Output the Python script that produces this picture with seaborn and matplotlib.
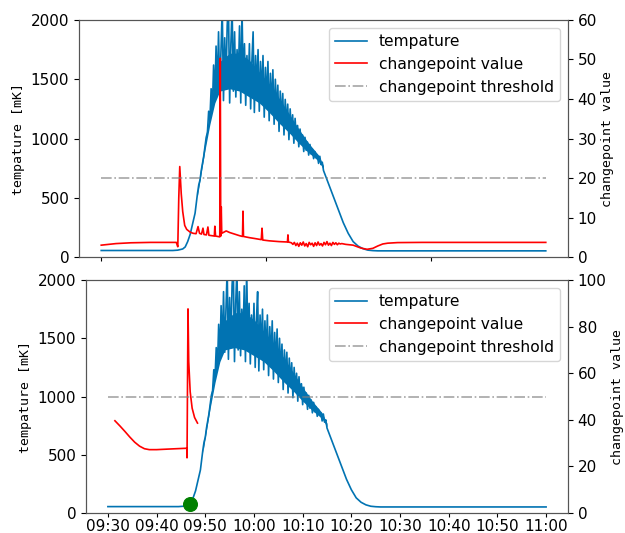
import numpy as np
import matplotlib
matplotlib.use("Agg")
import matplotlib.pyplot as plt
import seaborn as sns

# time in minutes after 09:30
temp_t_head = [0, 14.5, 15.5, 16.5, 17.0, 17.5, 18.0, 18.5, 19.0]
temp_v_head = [55, 55, 58, 68, 85, 130, 190, 280, 370]
temp_noise_start = 19.5  # noisy part sampled every 15 s
temp_noise = [540, 610, 650, 730, 790, 850, 930, 1010,
              1050, 1230, 1160, 1420, 1250, 1620, 1340, 1780,
              1400, 1900, 1380, 1750, 2100, 1320, 1850, 1450,
              1950, 2150, 1300, 1800, 2100, 1400, 1900, 1350,
              1750, 1500, 1950, 1300, 2100, 1450, 1800, 1280,
              1700, 1400, 1800, 1250, 1650, 1900, 1220, 1700,
              1400, 1750, 1230, 1650, 1350, 1700, 1180, 1600,
              1300, 1650, 1150, 1550, 1250, 1580, 1120, 1500,
              1200, 1450, 1060, 1400, 1150, 1380, 1030, 1330,
              1100, 1290, 990, 1250, 1050, 1200, 960, 1170,
              1000, 1110, 930, 1080, 960, 1030, 890, 1010,
              900, 970, 860, 950, 870, 910, 830, 890,
              840, 860, 790, 850, 780, 800, 730]
temp_t_tail = [46, 47, 48, 49, 50, 51, 52, 53, 54, 55, 56, 90]
temp_v_tail = [620, 510, 400, 290, 200, 130, 92, 70, 58, 54, 52, 52]

# dense core of the noisy band
core_t = [19.5, 21, 22, 23, 24, 26, 28, 30, 32, 34, 36, 38, 40, 42, 44, 45]
core_lo = [520, 900, 1120, 1300, 1400, 1420, 1400, 1350, 1300, 1220, 1130, 1050, 960, 880, 810, 740]
core_hi = [580, 980, 1250, 1500, 1650, 1720, 1720, 1660, 1560, 1460, 1340, 1210, 1080, 960, 860, 770]

# changepoint value, top run
cp1_t = [0, 3, 6, 10, 15.2, 15.5, 15.7, 15.9, 16.2, 16.5, 16.9, 17.3, 18.0, 18.6,
         19.2, 19.6, 19.9, 20.3, 20.6, 20.8, 21.3, 21.6, 21.8, 22.4, 22.9, 23.0, 23.15,
         23.6, 24.0, 24.1, 24.2, 24.3, 24.4, 25.3, 26, 27, 28, 28.6, 28.7, 28.8,
         30, 31, 32.4, 32.55, 32.7, 34, 36, 37.7, 37.8, 37.9,
         38.5, 38.8, 39.1, 39.4, 39.7, 40.0, 40.3, 40.6, 40.9, 41.2, 41.5, 41.8,
         42.1, 42.4, 42.7, 43.0, 43.3, 43.6, 43.9, 44.2, 44.5, 44.8, 45.1, 45.4,
         45.7, 46.0, 46.3, 46.6, 46.9, 47.2, 47.5, 47.8, 48.1, 48.4, 48.7,
         49.5, 51, 52.5, 53.8, 55, 56, 57, 58, 60, 65, 90]
cp1_v = [3.0, 3.4, 3.6, 3.7, 3.7, 2.6, 15, 22.9, 16, 11.5, 8, 7, 6.3, 6.0,
         5.9, 7.7, 6.0, 5.8, 7.3, 5.7, 5.6, 7.6, 5.5, 5.4, 5.3, 7.8, 5.3,
         5.2, 5.1, 50.3, 5.3, 12.7, 6.0, 6.6, 6.2, 5.8, 5.4, 5.2, 11.6, 5.2,
         4.9, 4.7, 4.4, 7.3, 4.3, 4.1, 3.9, 3.8, 5.6, 3.8,
         3.6, 3.2, 3.7, 2.9, 3.5, 2.7, 3.6, 3.0, 3.8, 2.8, 3.4, 2.6,
         3.7, 3.1, 3.5, 2.7, 3.6, 2.9, 3.8, 3.0, 3.4, 2.8, 3.7, 3.1,
         3.9, 3.0, 3.5, 2.9, 3.7, 3.2, 3.6, 3.1, 3.5, 3.3, 3.4,
         3.2, 3.0, 2.3, 1.95, 2.2, 2.8, 3.3, 3.5, 3.65, 3.7, 3.7]

# changepoint value, bottom run (stops at detection)
cp2_t = [1.44, 2.5, 3.5, 4.5, 5.5, 6.5, 7.5, 8.5, 10, 13, 16.2, 16.25, 16.45,
         16.6, 16.9, 17.3, 17.8, 18.4]
cp2_v = [39.6, 37.3, 35.0, 32.6, 30.4, 28.7, 27.6, 27.2, 27.2, 27.5, 27.8, 23.7, 87.6,
         65, 52, 45, 41, 38.6]

threshold1 = 20
threshold2 = 50
detect_t = 16.9
detect_v = 80

xtick_pos = [0, 10, 20, 30, 40, 50, 60, 70, 80, 90]
xtick_labels = ["09:30", "09:40", "09:50", "10:00", "10:10", "10:20",
                "10:30", "10:40", "10:50", "11:00"]

noise_t = temp_noise_start + 0.25 * np.arange(len(temp_noise))
temp_t = np.concatenate([temp_t_head, noise_t, temp_t_tail])
temp_v = np.concatenate([temp_v_head, temp_noise, temp_v_tail])

blue = "#0173b2"
mono = "DejaVu Sans Mono"

fig = plt.figure(figsize=(6.25, 5.33), dpi=100)
ax_top = fig.add_axes([0.1264, 0.5178, 0.7824, 0.4447])
ax_bot = fig.add_axes([0.1376, 0.0375, 0.7712, 0.4371])


def draw(ax, cp_t, cp_v, thr, rmax, rstep):
    ax2 = ax.twinx()
    ax.fill_between(core_t, core_lo, core_hi, color=blue, lw=0)
    sns.lineplot(x=temp_t, y=temp_v, ax=ax, color=blue, lw=1.2,
                 estimator=None, sort=False, label="tempature", legend=False)
    sns.lineplot(x=cp_t, y=cp_v, ax=ax2, color="red", lw=1.2,
                 estimator=None, sort=False, label="changepoint value", legend=False)
    sns.lineplot(x=[0, 90], y=[thr, thr], ax=ax2, color="gray", alpha=0.7, lw=1.2,
                 linestyle="-.", estimator=None, label="changepoint threshold", legend=False)
    ax.set_xlim(-4.5, 94.5)
    ax.set_ylim(0, 2000)
    ax.set_yticks([0, 500, 1000, 1500, 2000])
    ax2.set_ylim(0, rmax)
    ax2.set_yticks(np.arange(0, rmax + 1, rstep))
    ax.set_ylabel("tempature [mK]", family=mono, fontsize=9.5)
    ax2.set_ylabel("changepoint value", family=mono, fontsize=9.5, labelpad=3)
    for a in (ax, ax2):
        a.tick_params(labelsize=11)
        for s in a.spines.values():
            s.set_color("#555555")
    ax.tick_params(axis="x", labelsize=11, length=3, pad=1.5)
    handles = ax.get_lines()[:1] + ax2.get_lines()[:2]
    ax2.legend(handles, [h.get_label() for h in handles], loc="upper right",
               fontsize=11.2)
    return ax2


draw(ax_top, cp1_t, cp1_v, threshold1, 60, 10)
ax_top.set_xticks([0, 2000 / 60, 4000 / 60])
ax_top.set_xticklabels([])

ax_bot2 = draw(ax_bot, cp2_t, cp2_v, threshold2, 100, 20)
sns.scatterplot(x=[detect_t], y=[detect_v], ax=ax_bot, color="green", s=100,
                edgecolor="green", zorder=5, legend=False)
ax_bot.set_xticks(xtick_pos)
ax_bot.set_xticklabels(xtick_labels)

fig.savefig("out.png", dpi=100)
